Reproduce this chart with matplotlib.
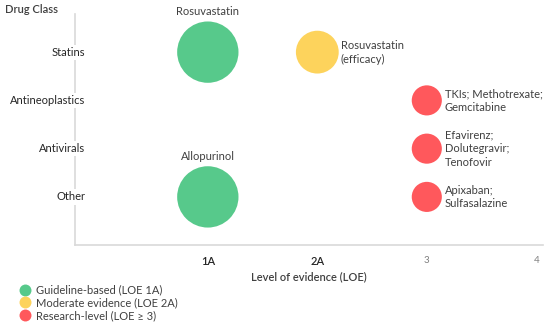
import matplotlib
matplotlib.use('Agg')
import matplotlib.pyplot as plt
from matplotlib.lines import Line2D

plt.rcParams['font.family'] = ['Lato', 'DejaVu Sans']

# Dados
classes = ['Other', 'Antivirals', 'Antineoplastics', 'Statins']
drug_labels = ['Rosuvastatin', 'Rosuvastatin\n(efficacy)', 'TKIs; Methotrexate;\nGemcitabine',
               'Efavirenz;\nDolutegravir;\nTenofovir', 'Allopurinol', 'Apixaban;\nSulfasalazine']
drug_class = ['Statins', 'Statins', 'Antineoplastics', 'Antivirals', 'Other', 'Other']
drug_loe = [1, 2, 3, 3, 1, 3]
x_ticks = [1, 2, 3, 4]
x_ticklabels = ['1A', '2A', '3', '4']
legend_labels = ['Guideline-based (LOE 1A)', 'Moderate evidence (LOE 2A)', 'Research-level (LOE \u2265 3)']

# Estilo por nível de evidência
colors = {1: '#57C98B', 2: '#FDD35C', 3: '#FF585C'}
sizes = {1: 1950, 2: 950, 3: 470}
txt = '#404040'
fs = 8

fig = plt.figure(figsize=(5.5, 3.26), dpi=100)
ax = fig.add_axes([0.136, 0.248, 0.851, 0.709])

ypos = {c: i + 1 for i, c in enumerate(classes)}
xs = drug_loe
ys = [ypos[c] for c in drug_class]
ax.scatter(xs, ys, s=[sizes[l] for l in drug_loe], c=[colors[l] for l in drug_loe],
           linewidths=0, zorder=3)

# Rótulos de cada bolha
for lab, x, y, l in zip(drug_labels, xs, ys, drug_loe):
    if l == 1:
        ax.annotate(lab, (x, y), xytext=(0, 25), textcoords='offset points',
                    ha='center', va='bottom', fontsize=fs, color=txt)
    else:
        off = 17 if l == 2 else 13
        ax.annotate(lab, (x, y), xytext=(off, 0), textcoords='offset points',
                    ha='left', va='center', fontsize=fs, color=txt, linespacing=1.3)

ax.set_xlim(-0.215, 4.06)
ax.set_ylim(0.0, 4.79)

for s in ['top', 'right']:
    ax.spines[s].set_visible(False)
for s in ['left', 'bottom']:
    ax.spines[s].set_color('#D9D9D9')
    ax.spines[s].set_linewidth(1.2)

ax.set_xticks(x_ticks)
ax.set_xticklabels(x_ticklabels)
ax.tick_params(axis='x', length=0, pad=8)
for t, lab in zip(ax.get_xticklabels(), x_ticklabels):
    if lab.endswith('A'):
        t.set_fontsize(fs)
        t.set_color('#262626')
        t.set_fontweight('semibold')
    else:
        t.set_fontsize(7)
        t.set_color('#7F7F7F')

ax.set_yticks([])
for c in classes:
    ax.text(0.022, ypos[c], c, transform=ax.get_yaxis_transform(), ha='right', va='center',
            fontsize=fs, color='#262626',
            bbox=dict(facecolor='white', edgecolor='none', pad=1.5), zorder=4)

ax.set_xlabel('Level of evidence (LOE)', fontsize=fs, color=txt, fontweight='semibold', labelpad=3)
fig.text(0.009, 0.972, 'Drug Class', fontsize=fs, color=txt, fontweight='semibold', va='center')

handles = [Line2D([], [], marker='o', linestyle='none', markersize=8.6,
                  markerfacecolor=colors[k], markeredgewidth=0) for k in [1, 2, 3]]
fig.legend(handles, legend_labels, loc='upper left', bbox_to_anchor=(0.027, 0.141),
           frameon=False, fontsize=fs, labelcolor=txt, handletextpad=0.5,
           labelspacing=0.17, borderaxespad=0, handlelength=1.0)

fig.savefig('out.png', dpi=100)
